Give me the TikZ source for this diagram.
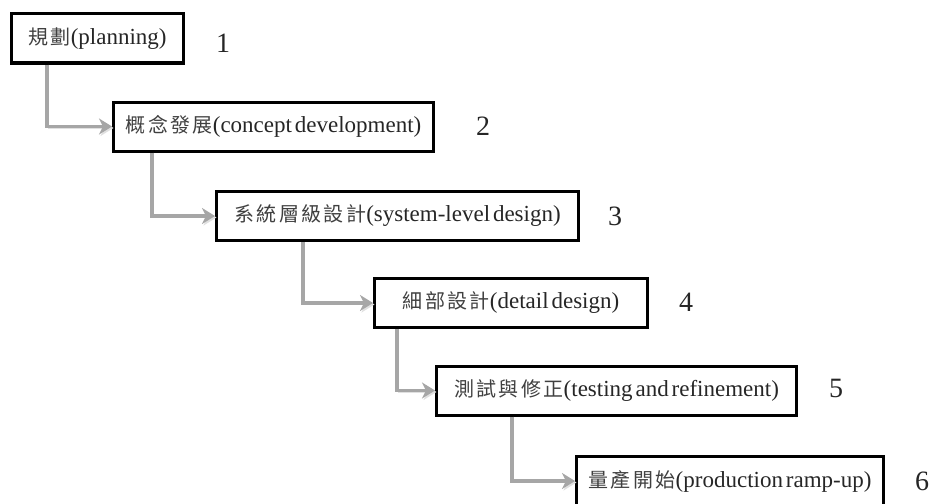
\documentclass[tikz,border=0pt]{standalone}
\usepackage{fontspec}
\setmainfont{Liberation Serif}[WordSpace=0.5]
\newfontfamily\cjk{Noto Sans CJK TC}[LetterSpace=12]
\usetikzlibrary{arrows.meta}
\newcommand{\zh}[1]{{\cjk\fontsize{20}{22}\selectfont\color{black!75}#1}}
\begin{document}
\begin{tikzpicture}[x=1pt,y=-1pt,
  stage/.style={draw, line width=3pt, minimum height=49pt, inner sep=0pt,
    font=\fontsize{23}{28}\selectfont, text=black!85},
  flow/.style={draw=black!35, line width=3.5pt,
    -{Stealth[length=13pt,width=16pt,inset=4pt]},
    preaction={draw=black!12, transform canvas={shift={(1.5pt,-1.5pt)}}}},
  num/.style={font=\fontsize{28}{32}\selectfont, text=black!85}]
\useasboundingbox (0,0) rectangle (936,503);
\node[stage, minimum width=172pt] (1) at (97.5,38.5) {\zh{規劃}(planning)};
\node[stage, minimum width=320pt] (2) at (273.5,126.5) {\zh{概念發展}(concept development)};
\node[stage, minimum width=362pt] (3) at (397.5,216) {\zh{系統層級設計}(system-level design)};
\node[stage, minimum width=273pt] (4) at (511,303) {\zh{細部設計}(detail design)};
\node[stage, minimum width=360pt] (5) at (616.5,390.5) {\zh{測試與修正}(testing and refinement)};
\node[stage, minimum width=307pt] (6) at (730,481) {\zh{量產開始}(production ramp-up)};
\node[num] (n1) at (223,43) {1};
\node[num] (n2) at (483,126) {2};
\node[num] (n3) at (615,216) {3};
\node[num] (n4) at (686,302) {4};
\node[num] (n5) at (836,388) {5};
\node[num] (n6) at (922,481) {6};
\path[flow] ([xshift=37pt]1.south west) |- (2.west);
\path[flow] ([xshift=40pt]2.south west) |- (3.west);
\path[flow] ([xshift=88pt]3.south west) |- (4.west);
\path[flow] ([xshift=24pt]4.south west) |- (5.west);
\path[flow] ([xshift=77pt]5.south west) |- (6.west);
\end{tikzpicture}
\end{document}
